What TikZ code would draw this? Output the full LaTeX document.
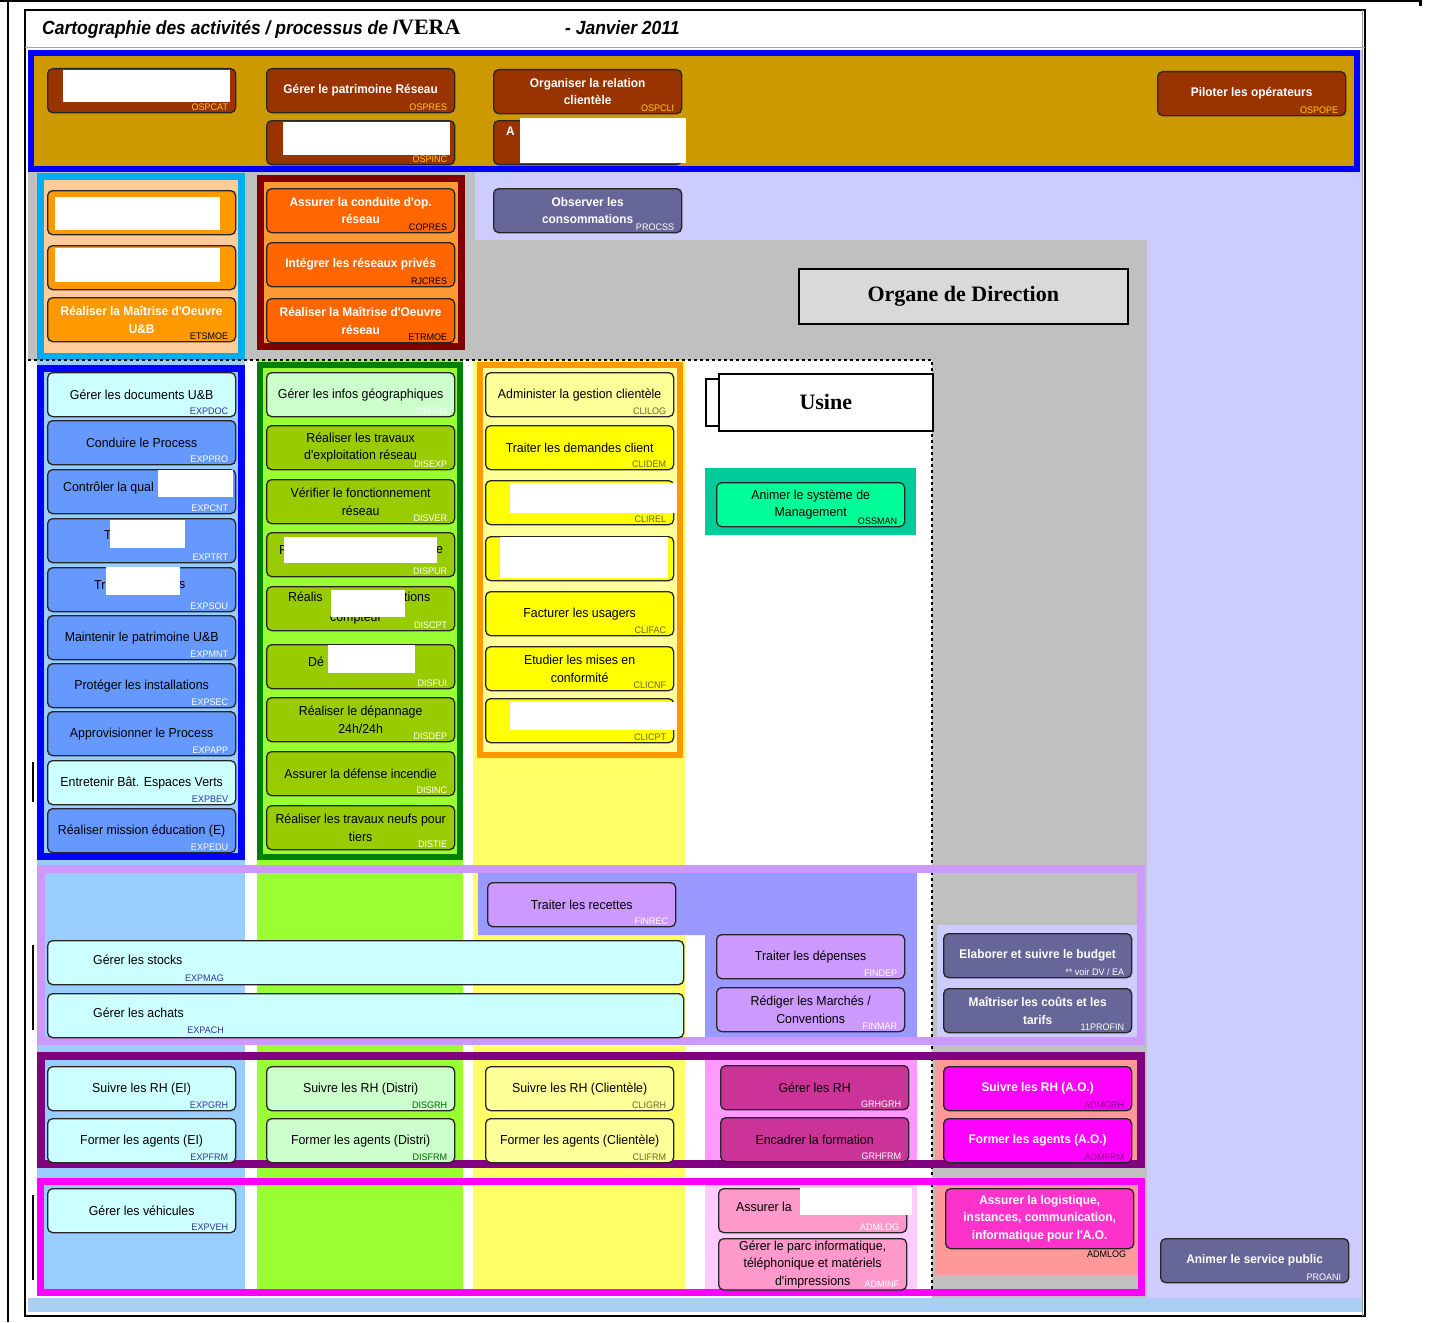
\documentclass[tikz,border=0pt]{standalone}
\usepackage{fontspec}
\setmainfont{Liberation Serif}
\newfontfamily\procfont[FakeStretch=0.95]{Liberation Sans}
\newfontfamily\titlefont[FakeStretch=0.92]{Liberation Sans}
\usetikzlibrary{positioning}

\definecolor{bandblue}{HTML}{0000FF}
\definecolor{gold}{HTML}{CC9900}
\definecolor{brownbox}{HTML}{993300}
\definecolor{codeyellow}{HTML}{FFCC00}
\definecolor{peach}{HTML}{FFCC99}
\definecolor{orangebox}{HTML}{FF9900}
\definecolor{darkred}{HTML}{800000}
\definecolor{orangefill}{HTML}{FF9933}
\definecolor{redbox}{HTML}{FF6600}
\definecolor{lavender}{HTML}{CCCCFF}
\definecolor{midgray}{HTML}{C0C0C0}
\definecolor{boxgray}{HTML}{D9D9D9}
\definecolor{skyblue}{HTML}{99CCFF}
\definecolor{bluebox}{HTML}{6699FF}
\definecolor{palecyan}{HTML}{CCFFFF}
\definecolor{lime}{HTML}{99FF33}
\definecolor{darkgreen}{HTML}{008000}
\definecolor{olivebox}{HTML}{99CC00}
\definecolor{palegreen}{HTML}{CCFFCC}
\definecolor{colyellow}{HTML}{FFFF66}
\definecolor{paleyellow}{HTML}{FFFF99}
\definecolor{yellowbox}{HTML}{FFFF00}
\definecolor{finpurple}{HTML}{9999FF}
\definecolor{violetbox}{HTML}{CC99FF}
\definecolor{slate}{HTML}{666699}
\definecolor{hrpurple}{HTML}{800080}
\definecolor{hrpink}{HTML}{FF99FF}
\definecolor{grhbox}{HTML}{CC3399}
\definecolor{salmon}{HTML}{FF9999}
\definecolor{logmagenta}{HTML}{FF00FF}
\definecolor{palepink}{HTML}{FFCCFF}
\definecolor{pinkbox}{HTML}{FF99CC}
\definecolor{hotpink}{HTML}{FF33CC}
\definecolor{mgtteal}{HTML}{00CC99}
\definecolor{mint}{HTML}{00FF99}
\definecolor{stripblue}{HTML}{A9CFF5}
\definecolor{codeblue}{HTML}{333399}
\definecolor{codegreen}{HTML}{006600}
\definecolor{codeolive}{HTML}{666633}

\tikzset{
  proc/.style={draw=black!85, line width=1.3pt, rounded corners=5pt,
    minimum width=188pt, minimum height=44pt, anchor=north west,
    align=center, inner sep=2pt, font=\procfont\fontsize{13}{17.5}\selectfont},
  whiteproc/.style={proc, text=white,
    font=\procfont\bfseries\fontsize{12.5}{17.5}\selectfont},
  proccode/.style={anchor=south east, inner sep=0pt,
    font=\procfont\fontsize{9.5}{10}\selectfont},
  frag/.style={anchor=west, inner sep=0pt, font=\procfont\fontsize{13}{17.5}\selectfont},
  brownproc/.style={whiteproc, fill=brownbox},
  brownproc code/.style={proccode, text=codeyellow},
  orngproc/.style={whiteproc, fill=orangebox},
  orngproc code/.style={proccode, text=black},
  redproc/.style={whiteproc, fill=redbox},
  redproc code/.style={proccode, text=black},
  blueproc/.style={proc, fill=bluebox},
  blueproc code/.style={proccode, text=white},
  cyanproc/.style={proc, fill=palecyan},
  cyanproc code/.style={proccode, text=codeblue},
  oliveproc/.style={proc, fill=olivebox},
  oliveproc code/.style={proccode, text=white},
  greenproc/.style={proc, fill=palegreen},
  greenproc code/.style={proccode, text=white},
  greenhrproc/.style={proc, fill=palegreen},
  greenhrproc code/.style={proccode, text=codegreen},
  yellowproc/.style={proc, fill=yellowbox},
  yellowproc code/.style={proccode, text=codeolive},
  paleyproc/.style={proc, fill=paleyellow},
  paleyproc code/.style={proccode, text=codeolive},
  violetproc/.style={proc, fill=violetbox},
  violetproc code/.style={proccode, text=white},
  slateproc/.style={whiteproc, fill=slate},
  slateproc code/.style={proccode, text=white},
  grhproc/.style={proc, fill=grhbox},
  grhproc code/.style={proccode, text=white},
  magproc/.style={whiteproc, fill=logmagenta},
  magproc code/.style={proccode, text=hrpurple},
  pinkproc/.style={proc, fill=pinkbox},
  pinkproc code/.style={proccode, text=white},
  hotproc/.style={whiteproc, fill=hotpink},
  hotproc code/.style={proccode, text=black},
  mintproc/.style={proc, fill=mint},
  mintproc code/.style={proccode, text=black},
  header/.style={draw=black, line width=1.6pt, anchor=north west,
    font=\bfseries\fontsize{22}{24}\selectfont},
  hide/.style={fill=white}
}

% box + its code in the lower right corner
\newcommand{\addproc}[6][]{%
  \node[#2,#1] (#3) at (#4) {#5};
  \node[#2 code] (#3-c) at ([xshift=-8pt,yshift=3pt]#3.south east) {#6};}

\begin{document}
\begin{tikzpicture}[x=1pt,y=-1pt]
  \useasboundingbox (0,0) rectangle (1445,1322);
  \fill[white] (0,0) rectangle (1445,1322);

  % Frame and title
  \draw[line width=3pt] (0,1) -- (1420,1) -- (1420,6);
  \draw[line width=1.5pt] (8,0) -- (8,1322);
  \draw[line width=1.2pt] (25,10) rectangle (1365,1316);
  \draw[black!40, line width=1pt] (1362,10) -- (1362,1316);
  \draw[finpurple, line width=1pt] (25,48) -- (1365,48);
  \node[anchor=base west, inner sep=0pt, font=\titlefont\bfseries\itshape\fontsize{19}{20}\selectfont]
    (title) at (42,35) {Cartographie des activités / processus de l};
  \node[anchor=base west, inner sep=0pt, font=\bfseries\fontsize{22}{22}\selectfont]
    (vera) at (title.base east) {VERA};
  \node[anchor=base west, inner sep=0pt, font=\titlefont\bfseries\itshape\fontsize{19}{20}\selectfont]
    (date) at (565,35) {- Janvier 2011};

  % Backgrounds
  \fill[lavender] (28,50) rectangle (1362,1298);
  \fill[stripblue] (28,1298) rectangle (1362,1312);
  \fill[midgray] (28,172) rectangle (1147,1298);
  \fill[lavender] (475,172) rectangle (1147,240);
  \fill[white] (28,360) rectangle (932,1298);
  \fill[skyblue] (37,360) rectangle (245,1296);
  \fill[lime] (257,360) rectangle (463,1296);
  \fill[colyellow] (473,360) rectangle (685,1296);

  % Groups
  \filldraw[fill=gold, draw=bandblue, line width=6pt] (31,53) rectangle (1357,169);
  \filldraw[fill=peach, draw=cyan, line width=7pt] (40.5,176.5) rectangle (241.5,356.5);
  \filldraw[fill=orangefill, draw=darkred, line width=7pt] (260.5,178.5) rectangle (461.5,346.5);
  \filldraw[fill=skyblue, draw=bandblue, line width=7pt] (40.5,368.5) rectangle (241.5,856.5);
  \filldraw[fill=lime, draw=darkgreen, line width=6pt] (260,365) rectangle (460,857);
  \filldraw[fill=paleyellow, draw=orangebox, line width=6pt] (480,365) rectangle (680,755);
  \fill[mgtteal] (705,468) rectangle (916,535);

  \fill[finpurple] (478,873) -- (917,873) -- (917,1037) -- (705,1037) -- (705,935) -- (478,935) -- cycle;
  \fill[lavender] (937,925) rectangle (1137,1037);
  \fill[hrpink] (705,1060) rectangle (917,1160);
  \fill[salmon] (935,1060) rectangle (1137,1160);
  \fill[palepink] (705,1185) rectangle (917,1289);
  \fill[salmon] (935,1185) rectangle (1137,1275);

  \draw[dashed, line width=1.2pt] (28,360) -- (932,360) -- (932,1298);
  \draw[violetbox, line width=8pt] (41,869) rectangle (1141,1041);
  \draw[hrpurple, line width=8pt] (41,1056) rectangle (1141,1164);
  \draw[logmagenta, line width=7pt] (40.5,1181.5) rectangle (1141.5,1292.5);
  \draw[line width=1.2pt] (33,762) -- (33,802);
  \draw[line width=1.2pt] (33,945) -- (33,1030);
  \draw[line width=1.2pt] (33,1195) -- (33,1280);

  % Top band
  \addproc{brownproc}{pcat}{47,68}{}{OSPCAT}
  \addproc{brownproc}{pres}{266,68}{Gérer le patrimoine Réseau}{OSPRES}
  \addproc{brownproc}{pinc}{266,120}{}{OSPINC}
  \addproc{brownproc}{pcli}{493,69}{Organiser la relation\\clientèle}{OSPCLI}
  \addproc{brownproc}{pacl}{493,120}{}{}
  \addproc{brownproc}{pope}{1157,71}{Piloter les opérateurs}{OSPOPE}
  \node[frag, text=white, font=\procfont\bfseries\fontsize{12.5}{17}\selectfont] (pacl-t) at (506,131) {A};

  % Studies / works
  \addproc{orngproc}{sa}{47,190}{}{}
  \addproc{orngproc}{sb}{47,245}{}{}
  \addproc{orngproc}{smoe}{47,297}{Réaliser la Maîtrise d'Oeuvre\\U\&B}{ETSMOE}
  \addproc{redproc}{rcond}{266,188}{Assurer la conduite d'op.\\réseau}{COPRES}
  \addproc{redproc}{rpriv}{266,242}{Intégrer les réseaux privés}{RJCRES}
  \addproc{redproc}{rmoe}{266,298}{Réaliser la Maîtrise d'Oeuvre\\réseau}{ETRMOE}
  \addproc{slateproc}{conso}{493,188}{Observer les\\consommations}{PROCSS}

  % Exploitation
  \addproc{cyanproc}{edoc}{47,372}{Gérer les documents  U\&B}{EXPDOC}
  \addproc{blueproc}{epro}{47,420}{Conduire le Process}{EXPPRO}
  \addproc{blueproc}{ecnt}{47,469}{}{EXPCNT}
  \addproc{blueproc}{etrt}{47,518}{}{EXPTRT}
  \addproc{blueproc}{esou}{47,567}{}{EXPSOU}
  \addproc{blueproc}{emnt}{47,615}{Maintenir le patrimoine U\&B}{EXPMNT}
  \addproc{blueproc}{esec}{47,663}{Protéger les installations}{EXPSEC}
  \addproc{blueproc}{eapp}{47,711}{Approvisionner le Process}{EXPAPP}
  \addproc{cyanproc}{ebev}{47,760}{Entretenir Bât. Espaces Verts}{EXPBEV}
  \addproc{blueproc}{eedu}{47,808}{Réaliser mission éducation (E)}{EXPEDU}
  \node[frag] (ecnt-t) at (63,488) {Contrôler la qual};
  \node[frag] (etrt-t) at (104,535) {T};
  \node[frag] (esou-t) at (94,585) {Tr};
  \node[frag] (esou-u) at (179,585) {s};

  % Distribution
  \addproc{greenproc}{dsig}{266,372}{Gérer les infos géographiques}{DISSIG}
  \addproc{oliveproc}{dexp}{266,425}{Réaliser les travaux\\d'exploitation réseau}{DISEXP}
  \addproc{oliveproc}{dver}{266,479}{Vérifier le fonctionnement\\réseau}{DISVER}
  \addproc{oliveproc}{dpur}{266,532}{}{DISPUR}
  \addproc{oliveproc}{dcpt}{266,586}{}{DISCPT}
  \addproc{oliveproc}{dfui}{266,644}{}{DISFUI}
  \addproc{oliveproc}{ddep}{266,697}{Réaliser le dépannage\\24h/24h}{DISDEP}
  \addproc{oliveproc}{dinc}{266,751}{Assurer la défense incendie}{DISINC}
  \addproc{oliveproc}{dtie}{266,805}{Réaliser les travaux neufs pour\\tiers}{DISTIE}
  \node[frag] (dpur-t) at (279,550) {R};
  \node[frag] (dpur-u) at (436,550) {e};
  \node[frag] (dcpt-t) at (288,597) {Réalis};
  \node[frag] (dcpt-u) at (404,597) {tions};
  \node[frag] (dcpt-v) at (330,619) {compteur};
  \node[frag] (dfui-t) at (308,662) {Dé};

  % Clientele
  \addproc{paleyproc}{clog}{485,372}{Administer la gestion clientèle}{CLILOG}
  \addproc{yellowproc}{cdem}{485,425}{Traiter les demandes client}{CLIDEM}
  \addproc{yellowproc}{crel}{485,480}{}{CLIREL}
  \addproc{yellowproc}{cfour}{485,536}{}{}
  \addproc{yellowproc}{cfac}{485,591}{Facturer les usagers}{CLIFAC}
  \addproc{yellowproc}{ccnf}{485,646}{Etudier les mises en\\conformité}{CLICNF}
  \addproc{yellowproc}{ccpt}{485,698}{}{CLICPT}

  % Usine
  \addproc{mintproc}{oman}{716,482}{Animer le système de\\Management}{OSSMAN}

  % Finances
  \node[cyanproc, minimum width=636pt] (fmag) at (47,940) {};
  \node[frag] (fmag-t) at (93,960) {Gérer les stocks};
  \node[proccode, text=codeblue] (fmag-c) at (224,982) {EXPMAG};
  \node[cyanproc, minimum width=636pt] (fach) at (47,993) {};
  \node[frag] (fach-t) at (93,1013) {Gérer les achats};
  \node[proccode, text=codeblue] (fach-c) at (224,1034) {EXPACH};
  \addproc{violetproc}{frec}{487,882}{Traiter les recettes}{FINREC}
  \addproc{violetproc}{fdep}{716,934}{Traiter les dépenses}{FINDEP}
  \addproc{violetproc}{fmar}{716,987}{Rédiger les Marchés /\\Conventions}{FINMAR}
  \addproc{slateproc}{fbud}{943,933}{Elaborer et suivre le budget}{** voir DV / EA}
  \addproc{slateproc}{ftar}{943,988}{Maîtriser les coûts et les\\tarifs}{11PROFIN}

  % Human resources
  \addproc{cyanproc}{hgrhe}{47,1066}{Suivre les RH (EI)}{EXPGRH}
  \addproc{cyanproc}{hfrme}{47,1118}{Former les agents (EI)}{EXPFRM}
  \addproc{greenhrproc}{hgrhd}{266,1066}{Suivre les RH (Distri)}{DISGRH}
  \addproc{greenhrproc}{hfrmd}{266,1118}{Former les agents (Distri)}{DISFRM}
  \addproc{paleyproc}{hgrhc}{485,1066}{Suivre les RH (Clientèle)}{CLIGRH}
  \addproc{paleyproc}{hfrmc}{485,1118}{Former les agents (Clientèle)}{CLIFRM}
  \addproc{grhproc}{hgrh}{720,1065}{Gérer les RH}{GRHGRH}
  \addproc{grhproc}{hfrm}{720,1117}{Encadrer la formation}{GRHFRM}
  \addproc{magproc}{hgrha}{943,1066}{Suivre les RH (A.O.)}{ADMGRH}
  \addproc{magproc}{hfrma}{943,1118}{Former les agents (A.O.)}{ADMFRM}

  % Logistics
  \addproc{cyanproc}{lveh}{47,1188}{Gérer les véhicules}{EXPVEH}
  \addproc{pinkproc}{llog}{718,1188}{}{ADMLOG}
  \addproc[minimum height=50pt]{pinkproc}{linf}{718,1238}{Gérer le parc informatique,\\téléphonique et matériels\\d'impressions}{ADMINF}
  \node[hotproc, minimum height=60pt] (lao) at (945,1188) {Assurer la logistique,\\instances, communication,\\informatique pour l'A.O.};
  \node[proccode, anchor=north east, text=black] (lao-c) at ([xshift=-8pt,yshift=-1pt]lao.south east) {ADMLOG};
  \addproc{slateproc}{lani}{1160,1238}{Animer le service public}{PROANI}
  \node[frag] (llog-t) at (736,1207) {Assurer la};

  % Masked labels
  \fill[hide] (63,70) rectangle (230,102);
  \fill[hide] (283,122) rectangle (450,155);
  \fill[hide] (520,118) rectangle (686,163);
  \fill[hide] (55,197) rectangle (220,230);
  \fill[hide] (55,248) rectangle (220,282);
  \fill[hide] (158,470) rectangle (233,497);
  \fill[hide] (110,520) rectangle (185,548);
  \fill[hide] (106,567) rectangle (180,595);
  \fill[hide] (284,537) rectangle (437,563);
  \fill[hide] (331,590) rectangle (405,617);
  \fill[hide] (328,645) rectangle (415,673);
  \fill[hide] (510,483) rectangle (677,513);
  \fill[hide] (500,537) rectangle (668,578);
  \fill[hide] (510,702) rectangle (677,730);
  \fill[hide] (800,1188) rectangle (912,1215);

  % Headers
  \node[header, fill=boxgray, minimum width=329pt, minimum height=55pt] (organe) at (798,268) {Organe de Direction};
  \draw[fill=white, line width=1.4pt] (706,379) rectangle (720,426);
  \node[header, fill=white, minimum width=214pt, minimum height=57pt] (usine) at (718,373) {Usine};
\end{tikzpicture}
\end{document}
